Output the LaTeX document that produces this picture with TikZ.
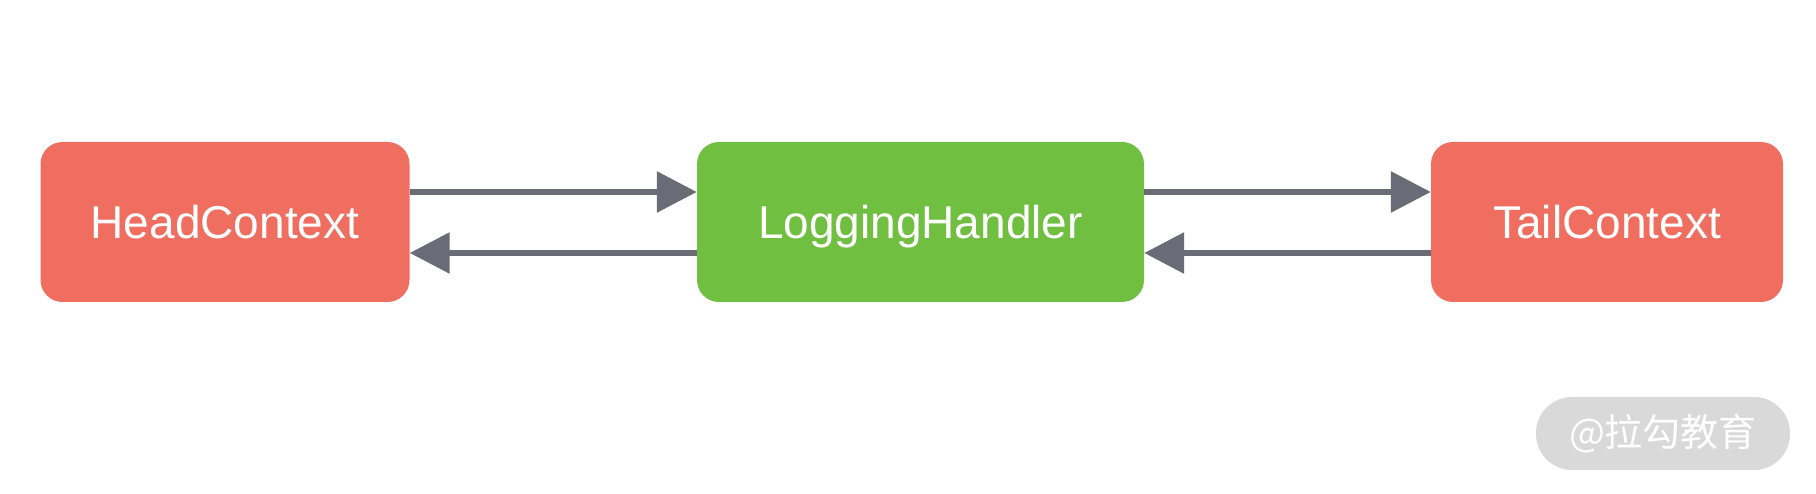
\documentclass[tikz,border=0pt]{standalone}
\usepackage{fontspec}
\setmainfont{Liberation Sans}
\newfontfamily\cjk{Noto Sans CJK SC}
\usetikzlibrary{arrows.meta}
\definecolor{redbox}{HTML}{EF6E60}
\definecolor{greenbox}{HTML}{70BF41}
\definecolor{arrowgrey}{HTML}{6B6B78}
\definecolor{wmgrey}{HTML}{D9D9D9}
\begin{document}
\begin{tikzpicture}[x=1pt,y=1pt,
  box/.style={rectangle, rounded corners=22pt, minimum height=160pt, inner sep=0pt, text=white, font=\fontsize{46}{52}\selectfont, text height=33pt, text depth=0pt},
  conn/.style={draw=arrowgrey, line width=6pt, -{Triangle[length=40pt,width=40pt]}}
]
\useasboundingbox (0,0) rectangle (1816,494);
\node[box, fill=redbox, minimum width=369pt] (h) at (225,272) {HeadContext};
\node[box, fill=greenbox, minimum width=447pt] (l) at (920.5,272) {LoggingHandler};
\node[box, fill=redbox, minimum width=352pt] (t) at (1607,272) {TailContext};
\draw[conn] ([yshift=30pt]h.east) -- ([yshift=30pt]l.west);
\draw[conn] ([yshift=-31pt]l.west) -- ([yshift=-31pt]h.east);
\draw[conn] ([yshift=30pt]l.east) -- ([yshift=30pt]t.west);
\draw[conn] ([yshift=-31pt]t.west) -- ([yshift=-31pt]l.east);
\node[rectangle, rounded corners=36pt, fill=wmgrey, minimum width=254pt, minimum height=73pt, inner sep=0pt, text=white, font=\cjk\fontsize{38}{44}\selectfont] (wm) at (1663,60.5) {@拉勾教育};
\end{tikzpicture}
\end{document}
